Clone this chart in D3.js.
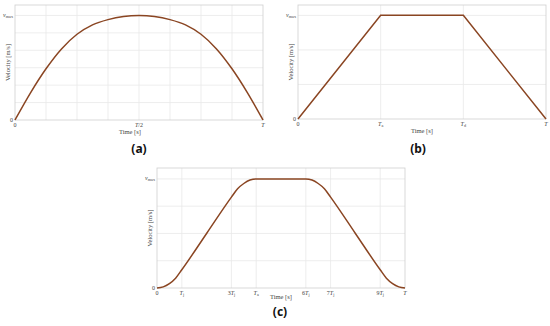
<!DOCTYPE html>
<html>
<head>
<meta charset="utf-8">
<script src="https://cdn.jsdelivr.net/npm/d3@7"></script>
<style>
    body { margin: 0; background: #fff; }
    svg { display: block; }
    .tick-label, .axis-title { font-family: "Liberation Serif", serif; fill: #444; }
    .panel-label { font-family: "Noto Sans", sans-serif; font-weight: bold; fill: #111; }
</style>
</head>
<body>
<div id="chart"></div>
<script>
// time in units of T, velocity in units of v_max
var sineTime = [0, 0.0625, 0.125, 0.1875, 0.25, 0.3125, 0.375, 0.4375, 0.5, 0.5625, 0.625, 0.6875, 0.75, 0.8125, 0.875, 0.9375, 1];
var sineVel = [0, 0.26, 0.49, 0.68, 0.82, 0.91, 0.96, 0.99, 1, 0.99, 0.96, 0.91, 0.82, 0.68, 0.49, 0.26, 0];

var trapTime = [0, 1 / 3, 2 / 3, 1];
var trapVel = [0, 1, 1, 0];

// time in units of Tj (T = 10 Tj)
var scurveTime = [0, 0.25, 0.5, 0.75, 1, 2, 3, 3.25, 3.5, 3.75, 4, 6, 6.25, 6.5, 6.75, 7, 8, 9, 9.25, 9.5, 9.75, 10];
var scurveVel = [0, 0.01, 0.04, 0.09, 0.167, 0.5, 0.833, 0.91, 0.958, 0.99, 1, 1, 0.99, 0.958, 0.91, 0.833, 0.5, 0.167, 0.09, 0.04, 0.01, 0];

var sineTicks = [0, 0.125, 0.25, 0.375, 0.5, 0.625, 0.75, 0.875, 1];
var sineTickLabels = [[["0", "n"]], [], [], [], [["T"], ["/2", "n"]], [], [], [], [["T"]]];
var trapTicks = [0, 1 / 3, 2 / 3, 1];
var trapTickLabels = [[["0", "n"]], [["T"], ["a", "sub"]], [["T"], ["d", "sub"]], [["T"]]];
var scurveTicks = [0, 1, 3, 4, 6, 7, 9, 10];
var scurveTickLabels = [[["0", "n"]], [["T"], ["j", "sub"]], [["3", "n"], ["T"], ["j", "sub"]], [["T"], ["a", "sub"]],
    [["6", "n"], ["T"], ["j", "sub"]], [["7", "n"], ["T"], ["j", "sub"]], [["9", "n"], ["T"], ["j", "sub"]], [["T"]]];

var sineGrid = [1 / 6, 2 / 6, 3 / 6, 4 / 6, 5 / 6, 1];
var trapGrid = [1 / 3, 2 / 3, 1];
var scurveGrid = [0.25, 0.5, 0.75, 1];

var width = 550;
var height = 326;

var svg = d3.select("#chart")
    .append("svg")
    .attr("width", width)
    .attr("height", height);

function label(sel, parts) {
    // parts: list of [text, style]
    parts.forEach(function(p) {
        var t = sel.append("tspan").text(p[0]);
        if (p[1] === "sub") {
            t.attr("font-size", "0.7em").attr("dy", "0.25em");
        } else if (p[1] === "n") {
            t.attr("font-style", "normal");
        } else {
            t.attr("font-style", "italic");
        }
    });
}

function drawPanel(cfg) {
    var g = svg.append("g");

    var x = d3.scaleLinear()
        .domain(cfg.xDomain)
        .range([cfg.left, cfg.right]);
    var y = d3.scaleLinear()
        .domain([0, 1.1])
        .range([cfg.bottom, cfg.top]);

    // grid
    g.selectAll(".vgrid")
        .data(cfg.vgrid)
        .enter()
        .append("line")
        .attr("x1", function(d) { return x(d); })
        .attr("x2", function(d) { return x(d); })
        .attr("y1", cfg.top)
        .attr("y2", cfg.bottom)
        .attr("stroke", "#e8e8e8")
        .attr("stroke-width", 0.8);

    g.selectAll(".hgrid")
        .data(cfg.hgrid)
        .enter()
        .append("line")
        .attr("x1", cfg.left)
        .attr("x2", cfg.right)
        .attr("y1", function(d) { return y(d); })
        .attr("y2", function(d) { return y(d); })
        .attr("stroke", "#e8e8e8")
        .attr("stroke-width", 0.8);

    g.append("rect")
        .attr("x", cfg.left)
        .attr("y", cfg.top)
        .attr("width", cfg.right - cfg.left)
        .attr("height", cfg.bottom - cfg.top)
        .attr("fill", "none")
        .attr("stroke", "#cfcfcf")
        .attr("stroke-width", 0.8);

    // x tick labels
    cfg.ticks.forEach(function(t, i) {
        var parts = cfg.tickLabels[i];
        if (!parts.length) return;
        var txt = g.append("text")
            .attr("class", "tick-label")
            .attr("x", x(t))
            .attr("y", cfg.bottom + 6.5)
            .attr("text-anchor", "middle")
            .attr("font-size", "6px");
        label(txt, parts);
    });

    // y tick labels
    g.append("text")
        .attr("class", "tick-label")
        .attr("x", cfg.left - 2)
        .attr("y", y(0) + 2)
        .attr("text-anchor", "end")
        .attr("font-size", "6px")
        .text("0");

    var vm = g.append("text")
        .attr("class", "tick-label")
        .attr("x", cfg.left - 2)
        .attr("y", y(1) + 1.5)
        .attr("text-anchor", "end")
        .attr("font-size", "6px");
    label(vm, [["v"], ["max", "sub"]]);

    g.append("text")
        .attr("class", "axis-title")
        .attr("x", (cfg.left + cfg.right) / 2 + cfg.titleDx)
        .attr("y", cfg.bottom + cfg.titleDy)
        .attr("text-anchor", "middle")
        .attr("font-size", "6.5px")
        .text("Time [s]");

    g.append("text")
        .attr("class", "axis-title")
        .attr("transform", "translate(" + (cfg.left - 5) + "," + ((cfg.top + cfg.bottom) / 2) + ") rotate(-90)")
        .attr("text-anchor", "middle")
        .attr("font-size", "6.5px")
        .text("Velocity [m/s]");

    var pts = cfg.time.map(function(t, i) { return [t, cfg.vel[i]]; });
    var line = d3.line()
        .x(function(d) { return x(d[0]); })
        .y(function(d) { return y(d[1]); })
        .curve(cfg.curve);

    g.append("path")
        .datum(pts)
        .attr("d", line)
        .attr("fill", "none")
        .attr("stroke", "#8a4522")
        .attr("stroke-width", 1.5);

    g.append("text")
        .attr("class", "panel-label")
        .attr("x", cfg.labelX)
        .attr("y", cfg.labelY)
        .attr("text-anchor", "middle")
        .attr("font-size", "12px")
        .text(cfg.name);
}

drawPanel({
    left: 15, right: 263, top: 5, bottom: 120,
    xDomain: [0, 1],
    time: sineTime, vel: sineVel, curve: d3.curveMonotoneX,
    ticks: sineTicks, tickLabels: sineTickLabels,
    vgrid: sineTicks.slice(1, -1), hgrid: sineGrid,
    titleDx: -9, titleDy: 14,
    name: "(a)", labelX: 139, labelY: 153
});

drawPanel({
    left: 298, right: 546, top: 5, bottom: 119,
    xDomain: [0, 1],
    time: trapTime, vel: trapVel, curve: d3.curveLinear,
    ticks: trapTicks, tickLabels: trapTickLabels,
    vgrid: trapTicks.slice(1, -1), hgrid: trapGrid,
    titleDx: 0, titleDy: 14,
    name: "(b)", labelX: 418, labelY: 153
});

drawPanel({
    left: 157, right: 405, top: 168, bottom: 288,
    xDomain: [0, 10],
    time: scurveTime, vel: scurveVel, curve: d3.curveMonotoneX,
    ticks: scurveTicks, tickLabels: scurveTickLabels,
    vgrid: scurveTicks.slice(1, -1), hgrid: scurveGrid,
    titleDx: 0, titleDy: 11,
    name: "(c)", labelX: 280, labelY: 316
});
</script>
</body>
</html>
